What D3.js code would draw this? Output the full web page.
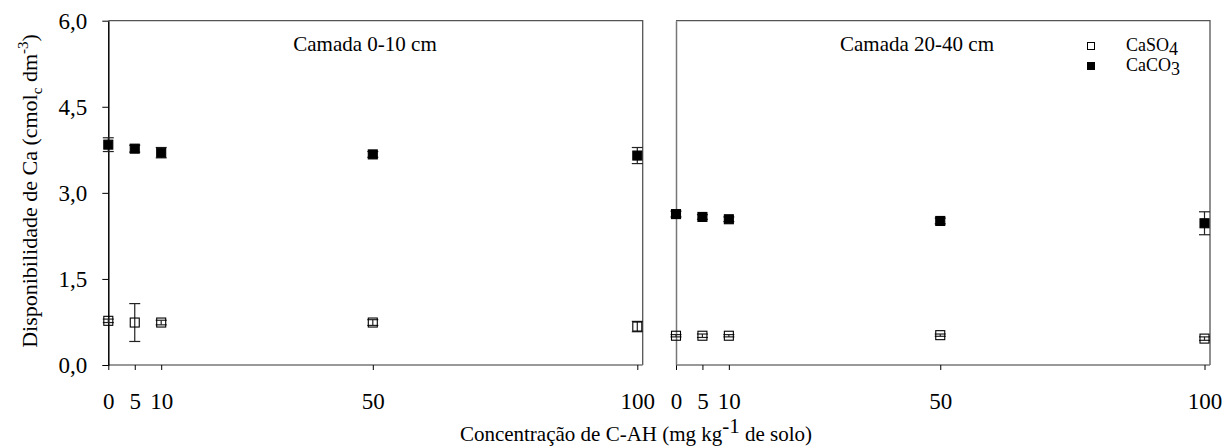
<!DOCTYPE html>
<html><head><meta charset="utf-8">
<script src="https://cdn.jsdelivr.net/npm/d3@7"></script>
<style>body{margin:0;background:#fff}svg{display:block}svg text{font-family:"Liberation Serif",serif !important;fill:#000}</style>
</head><body><svg id="c" width="1224" height="448"></svg>
<script>
const doses = [0, 5, 10, 50, 100];
const xTicks = [0, 5, 10, 50, 100];
const yTicks = [0, 1.5, 3.0, 4.5, 6.0];
const panelTitles = ["Camada 0-10 cm", "Camada 20-40 cm"];
// Layer 0-10 cm
const caco3_0_10 = [3.84, 3.77, 3.70, 3.67, 3.65];
const caco3_0_10_err = [0.12, 0.06, 0.09, 0.05, 0.14];
const caso4_0_10 = [0.77, 0.74, 0.74, 0.74, 0.67];
const caso4_0_10_err = [0.03, 0.33, 0.04, 0.05, 0.09];
// Layer 20-40 cm
const caco3_20_40 = [2.63, 2.58, 2.54, 2.51, 2.47];
const caco3_20_40_err = [0.05, 0.04, 0.04, 0.05, 0.20];
const caso4_20_40 = [0.51, 0.51, 0.51, 0.52, 0.46];
const caso4_20_40_err = [0.02, 0.03, 0.02, 0.02, 0.03];

const FONT = "Liberation Serif";
const svg = d3.select("#c");
const y = d3.scaleLinear().domain([0, 6]).range([365, 20.7]);
const panels = [
  {x0: 108.3, x1: 637.3, right: 642.7, title: panelTitles[0], tx: 365, caco3: caco3_0_10, caco3e: caco3_0_10_err, caso4: caso4_0_10, caso4e: caso4_0_10_err, axisColor: "#000"},
  {x0: 676, x1: 1204.5, right: 1210, title: panelTitles[1], tx: 917, caco3: caco3_20_40, caco3e: caco3_20_40_err, caso4: caso4_20_40, caso4e: caso4_20_40_err, axisColor: "#777"}
];
const fmt = d => d3.format(".1f")(d).replace(".", ",");

panels.forEach((p, pi) => {
  const x = d3.scaleLinear().domain([0, 100]).range([p.x0, p.x1]);
  const g = svg.append("g");
  g.append("path").attr("d", `M${p.x0},${y(6)}H${p.right}V${y(0)}`).attr("fill", "none").attr("stroke", "#555").attr("stroke-width", 1.3);
  const xa = g.append("g").attr("transform", `translate(0,${y(0)})`)
    .call(d3.axisBottom(x).tickValues(xTicks).tickSize(5).tickPadding(23).tickSizeOuter(0));
  xa.attr("font-family", FONT).attr("font-size", 23);
  xa.select(".domain").attr("d", `M${p.x0},0H${p.right}`).attr("stroke", "#777").attr("stroke-width", 1.5);
  xa.selectAll(".tick line").attr("stroke", "#000");
  const ya = g.append("g").attr("transform", `translate(${p.x0},0)`)
    .call(d3.axisLeft(y).tickValues(yTicks).tickSize(pi === 0 ? 6 : 0).tickPadding(15).tickFormat(pi === 0 ? fmt : () => "").tickSizeOuter(0));
  ya.attr("font-family", FONT).attr("font-size", 23);
  ya.select(".domain").attr("stroke", p.axisColor).attr("stroke-width", 1.5);
  g.append("text").attr("x", p.tx).attr("y", 51).attr("text-anchor", "middle").attr("font-size", 21).attr("font-family", FONT).text(p.title);
  const series = [
    {v: p.caso4, e: p.caso4e, filled: false},
    {v: p.caco3, e: p.caco3e, filled: true}
  ];
  series.forEach(s => {
    const pts = doses.map((d, i) => ({d, v: s.v[i], e: s.e[i]}));
    const eg = g.append("g").attr("stroke", "#222").attr("stroke-width", 1.2);
    pts.forEach(pt => {
      const cx = x(pt.d), yt = y(pt.v + pt.e), yb = y(pt.v - pt.e);
      eg.append("line").attr("x1", cx).attr("x2", cx).attr("y1", yt).attr("y2", yb);
      eg.append("line").attr("x1", cx - 5.5).attr("x2", cx + 5.5).attr("y1", yt).attr("y2", yt);
      eg.append("line").attr("x1", cx - 5.5).attr("x2", cx + 5.5).attr("y1", yb).attr("y2", yb);
    });
    g.append("g").selectAll("rect").data(pts).join("rect")
      .attr("x", d => x(d.d) - 4.5).attr("y", d => y(d.v) - 4.5)
      .attr("width", 9).attr("height", 9)
      .attr("fill", s.filled ? "#000" : "none").attr("stroke", "#000").attr("stroke-width", 1.1);
  });
});

const legend = [{label: "CaSO", sub: "4", fill: "none", yy: 46}, {label: "CaCO", sub: "3", fill: "#000", yy: 66}];
legend.forEach(l => {
  svg.append("rect").attr("x", 1087.5).attr("y", l.yy - 3.5).attr("width", 7).attr("height", 7)
    .attr("fill", l.fill).attr("stroke", "#000").attr("stroke-width", 1);
  const t = svg.append("text").attr("x", 1126).attr("y", l.yy + 5).attr("font-size", 18).attr("font-family", FONT);
  t.append("tspan").text(l.label);
  t.append("tspan").attr("dy", 4).text(l.sub);
});

const yt = svg.append("text").attr("transform", "translate(37,191) rotate(-90)").attr("text-anchor", "middle").attr("font-size", 22).attr("font-family", FONT);
yt.append("tspan").text("Disponibilidade de Ca (cmol");
yt.append("tspan").attr("dy", 5).attr("font-size", 15).text("c");
yt.append("tspan").attr("dy", -5).text(" dm");
yt.append("tspan").attr("dy", -9).attr("font-size", 15).text("-3");
yt.append("tspan").attr("dy", 9).text(")");

const xt = svg.append("text").attr("x", 636).attr("y", 441).attr("text-anchor", "middle").attr("font-size", 21).attr("font-family", FONT);
xt.append("tspan").text("Concentração de C-AH (mg kg");
xt.append("tspan").attr("dy", -8).attr("font-size", 21).text("-1");
xt.append("tspan").attr("dy", 8).text(" de solo)");
</script></body></html>
